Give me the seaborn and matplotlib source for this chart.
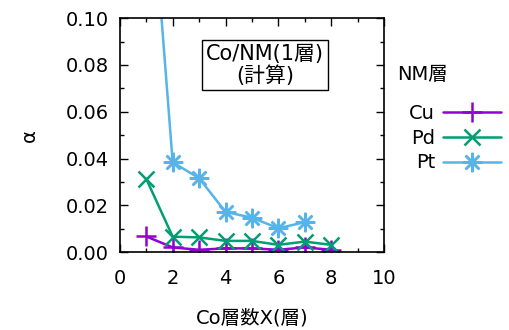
import pandas as pd
import numpy as np
import matplotlib
matplotlib.use("Agg")
import matplotlib.pyplot as plt
import seaborn as sns
from matplotlib.ticker import MultipleLocator, FormatStrFormatter

# data
layers = [1, 2, 3, 4, 5, 6, 7, 8]
cu = [0.0067, 0.0020, 0.0010, 0.0016, 0.0016, 0.0010, 0.0020, 0.0010]
pd_vals = [0.0313, 0.0066, 0.0063, 0.0048, 0.0048, 0.0031, 0.0045, 0.0031]
pt_layers = [1, 2, 3, 4, 5, 6, 7]
pt = [0.184, 0.0384, 0.0316, 0.0172, 0.0147, 0.0102, 0.0128]

sns.set_style("ticks")
plt.rcParams['font.family'] = ['DejaVu Sans', 'Noto Sans CJK JP']
plt.rcParams['font.size'] = 14
for k in ['text.color', 'axes.labelcolor', 'xtick.color', 'ytick.color', 'axes.edgecolor']:
    plt.rcParams[k] = 'black'

fig = plt.figure(figsize=(5.1, 3.3), dpi=100)
ax = fig.add_axes([0.235, 0.236, 0.518, 0.709])

df_cu = pd.DataFrame({'x': layers, 'y': cu})
df_pd = pd.DataFrame({'x': layers, 'y': pd_vals})
df_pt = pd.DataFrame({'x': pt_layers, 'y': pt})

series = [
    (df_cu, '#9400D3', '+', 14, 'Cu'),
    (df_pd, '#009E73', 'x', 11, 'Pd'),
    (df_pt, '#56B4E9', (8, 2, 0), 14, 'Pt'),
]
for d, c, m, ms, lab in series:
    sns.lineplot(data=d, x='x', y='y', ax=ax, color=c, marker=m,
                 markersize=ms, markeredgewidth=1.8, markeredgecolor=c,
                 linewidth=1.8, label=lab)

ax.set_xlim(0, 10)
ax.set_ylim(0, 0.1)
ax.xaxis.set_major_locator(MultipleLocator(2))
ax.xaxis.set_minor_locator(MultipleLocator(1))
ax.yaxis.set_major_locator(MultipleLocator(0.02))
ax.yaxis.set_minor_locator(MultipleLocator(0.01))
ax.yaxis.set_major_formatter(FormatStrFormatter('%.2f'))
ax.tick_params(which='both', direction='in', top=True, right=True, length=6,
               width=1, pad=8)
ax.tick_params(axis='x', which='both', pad=12)
ax.tick_params(which='minor', length=3)
for s in ax.spines.values():
    s.set_visible(True)
    s.set_linewidth(1.2)

ax.set_xlabel('Co層数X(層)', labelpad=15)
ax.set_ylabel('α', labelpad=19)

ax.text(5.5, 0.080, 'Co/NM(1層)\n(計算)', ha='center', va='center',
        linespacing=1.05, fontsize=15,
        bbox=dict(boxstyle='square,pad=0.2', facecolor='white',
                  edgecolor='black', linewidth=1))

# legend title drawn separately to get the wider gap above the entries
fig.text(397 / 510, 1 - 75 / 330, 'NM層', ha='left', va='center')
leg = ax.legend(loc='upper right', bbox_to_anchor=(509 / 510, 1 - 96 / 330),
                bbox_transform=fig.transFigure, frameon=False,
                markerfirst=False, handlelength=3.0, handletextpad=0.4,
                labelspacing=0.3, borderaxespad=0)
for t in leg.get_texts():
    t.set_ha('right')

fig.savefig('out.png', dpi=100)
